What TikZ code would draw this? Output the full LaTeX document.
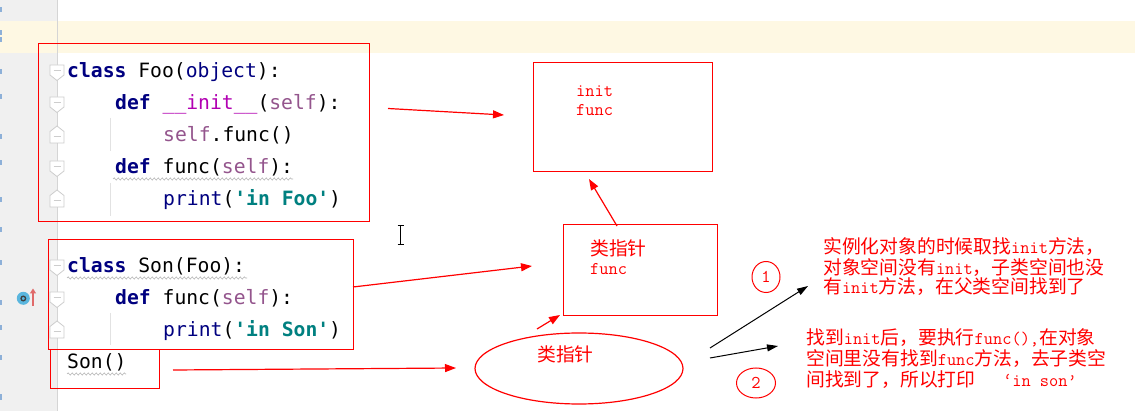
\documentclass[tikz,border=0pt]{standalone}
\usepackage{fontspec}
\newfontfamily\cjk{Noto Sans CJK SC}
\newfontfamily\codefont{DejaVu Sans Mono}
\usetikzlibrary{arrows.meta,shapes.geometric,decorations.pathmorphing}
\definecolor{kw}{HTML}{000080}
\definecolor{magic}{HTML}{B200B2}
\definecolor{selfc}{HTML}{94558D}
\definecolor{strc}{HTML}{008080}
\definecolor{gutterc}{HTML}{F0F0F0}
\definecolor{glinec}{HTML}{D5D5D5}
\definecolor{caretc}{HTML}{FEF8E3}
\definecolor{foldc}{HTML}{CDCDCD}
\definecolor{guidec}{HTML}{E2E2E2}
\definecolor{wavec}{HTML}{B4B4B4}
\definecolor{lnc}{HTML}{8DB0D8}
\definecolor{iconb}{HTML}{5AB6DE}
\definecolor{iconr}{HTML}{E06A6A}
\newcommand\kwd[1]{\textcolor{kw}{\bfseries #1}}
\newcommand\zh[1]{{\cjk\fontsize{18.8}{20}\selectfont #1}}
\newcommand\folddown[1]{%
  \draw[foldmark] (50,#1-13) -- (64,#1-13) -- (64,#1-3) -- (57,#1+2.5) -- (50,#1-3) -- cycle;
  \draw[foldc, line width=0.8pt] (53.5,#1-7.5) -- (60.5,#1-7.5);}
\newcommand\foldup[1]{%
  \draw[foldmark] (57,#1-16) -- (64,#1-10.5) -- (64,#1+1) -- (50,#1+1) -- (50,#1-10.5) -- cycle;
  \draw[foldc, line width=0.8pt] (53.5,#1-5.5) -- (60.5,#1-5.5);}
\tikzset{
  code/.style={anchor=base west, inner sep=0pt, font=\codefont\fontsize{19.7}{24}\selectfont},
  redbox/.style={draw=red, line width=1.2pt, inner sep=0pt, anchor=north west},
  redtxt/.style={anchor=base west, inner sep=0pt, text=red, font=\ttfamily\fontsize{17.9}{20}\selectfont},
  rarrow/.style={red, line width=1.2pt, -{Triangle[length=11pt,width=8pt]}},
  barrow/.style={black, line width=1pt, -{Triangle[length=11pt,width=7pt]}},
  foldmark/.style={draw=foldc, fill=white, line width=0.8pt},
  wavy/.style={wavec, line width=0.6pt, decorate, decoration={snake, amplitude=1.1pt, segment length=4pt}},
  guide/.style={guidec, line width=1pt},
  numcirc/.style={draw=red, line width=1pt, ellipse, inner sep=0pt, text=red, font=\ttfamily\fontsize{18}{18}\selectfont}
}
\begin{document}
\begin{tikzpicture}[x=1pt,y=-1pt]
\useasboundingbox (0,0) rectangle (1135,411);
\fill[white] (0,0) rectangle (1135,411);
% IDE background
\fill[gutterc] (0,0) rectangle (57,411);
\fill[caretc] (0,21) rectangle (1135,53);
\draw[glinec, line width=1pt] (57,0) -- (57,411);
\foreach \yy in {10,33,40,72,97,137,163,200,230,263,303,328,358,397}
  \fill[lnc] (0,\yy-2.5) rectangle (2,\yy+2.5);
% fold markers
\folddown{78}\folddown{110}\foldup{142}\folddown{174}\foldup{206}
\folddown{273}\folddown{305}\foldup{337}
% indent guides
\draw[guide] (110.5,118) -- (110.5,151);
\draw[guide] (110.5,183) -- (110.5,216);
\draw[guide] (110.5,313) -- (110.5,345);
% wavy underlines
\draw[wavy] (113,179) -- (293,179);
\draw[wavy] (67,278) -- (247,278);
\draw[wavy] (67,374) -- (126,374);
% gutter icon
\fill[iconb] (23.3,298.3) circle (6.5pt);
\draw[black!75, line width=1.3pt] (23.3,298.5) circle (2.3pt);
\draw[iconr, line width=1.5pt, -{Triangle[length=5pt,width=6pt]}] (33,306) -- (33,288.5);
% code
\node[code] (f1) at (67,78) {\kwd{class} Foo(\textcolor{kw}{object}):};
\node[code] (f2) at (115,110) {\kwd{def} \textcolor{magic}{\_\_init\_\_}(\textcolor{selfc}{self}):};
\node[code] (f3) at (163,142) {\textcolor{selfc}{self}.func()};
\node[code] (f4) at (115,174) {\kwd{def} func(\textcolor{selfc}{self}):};
\node[code] (f5) at (163,206) {\textcolor{kw}{print}(\textcolor{strc}{\bfseries 'in Foo'})};
\node[code] (s1) at (67,273) {\kwd{class} Son(Foo):};
\node[code] (s2) at (115,305) {\kwd{def} func(\textcolor{selfc}{self}):};
\node[code] (s3) at (163,337) {\textcolor{kw}{print}(\textcolor{strc}{\bfseries 'in Son'})};
\node[code] (s4) at (67,369) {Son()};
% red boxes
\node[redbox, minimum width=331pt, minimum height=178pt] (foo) at (38,43) {};
\node[redbox, minimum width=305pt, minimum height=110pt] (son) at (48,239) {};
\node[redbox, minimum width=109pt, minimum height=39pt] (call) at (50,349) {};
\node[redbox, minimum width=179pt, minimum height=109pt] (cls) at (533,62) {};
\node[redbox, minimum width=154pt, minimum height=91pt] (ptr) at (563,224) {};
\node[draw=red, line width=1.2pt, ellipse, minimum width=208pt, minimum height=71pt, inner sep=0pt] (obj) at (579,368.5) {};
% texts in boxes
\node[redtxt] (i1) at (576,97) {init};
\node[redtxt] (i2) at (576,116) {func};
\node[redtxt] (p1) at (590,255.5) {\zh{类指针}};
\node[redtxt] (p2) at (590,275) {func};
\node[redtxt] (e1) at (537,361.5) {\zh{类指针}};
% notes
\node[redtxt] (n1a) at (823,254) {\zh{实例化对象的时候取找}init\zh{方法，}};
\node[redtxt] (n1b) at (823,275) {\zh{对象空间没有}init\zh{，子类空间也没}};
\node[redtxt] (n1c) at (823,294) {\zh{有}init\zh{方法，在父类空间找到了}};
\node[redtxt] (n2a) at (806,345) {\zh{找到}init\zh{后，要执行}func(),\zh{在对象}};
\node[redtxt] (n2b) at (806,366) {\zh{空间里没有找到}func\zh{方法，去子类空}};
\node[redtxt] (n2c) at (806,387) {\zh{间找到了，所以打印}\ \ \ ‘in son’};
\node[numcirc, minimum width=28pt, minimum height=31pt] (c1) at (766,277) {1};
\node[numcirc, minimum width=39pt, minimum height=30pt] (c2) at (756,383) {2};
% arrow endpoints
\coordinate (a1s) at (388,108.5);
\coordinate (a1e) at (504,115);
\coordinate (a2s) at (353,287);
\coordinate (a2e) at (532,266);
\coordinate (a3s) at (173,370);
\coordinate (a3e) at (456,368);
\coordinate (a4s) at (537,329);
\coordinate (a4e) at (560,315);
\coordinate (a5s) at (617,226);
\coordinate (a5e) at (589,179);
\coordinate (b1s) at (710,348);
\coordinate (b1e) at (808,286);
\coordinate (b2s) at (710,358);
\coordinate (b2e) at (778,346);
\draw[rarrow] (a1s) -- (a1e);
\draw[rarrow] (a2s) -- (a2e);
\draw[rarrow] (a3s) -- (a3e);
\draw[rarrow] (a4s) -- (a4e);
\draw[rarrow] (a5s) -- (a5e);
\draw[barrow] (b1s) -- (b1e);
\draw[barrow] (b2s) -- (b2e);
% text cursor
\draw[black, line width=1.2pt] (400.5,226) -- (400.5,244);
\draw[black, line width=1pt] (397.5,225.5) -- (403.5,225.5);
\draw[black, line width=1pt] (397.5,244.5) -- (403.5,244.5);
\end{tikzpicture}
\end{document}
